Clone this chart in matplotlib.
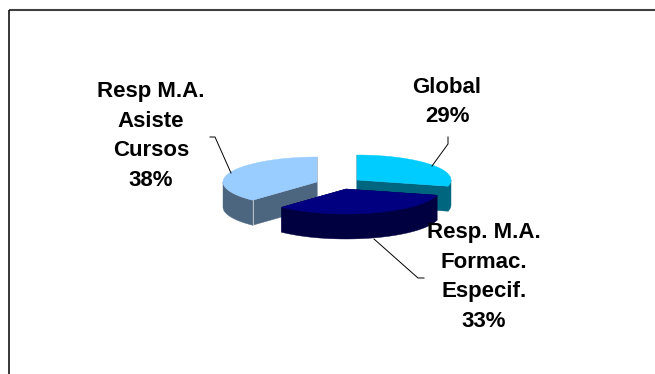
import numpy as np
import matplotlib
matplotlib.use('Agg')
import matplotlib.pyplot as plt
from matplotlib.patches import Polygon

labels = ['Global', 'Resp. M.A.\nFormac.\nEspecif.', 'Resp M.A.\nAsiste\nCursos']
values = [29, 33, 38]
top_colors = ['#00CCFF', '#000080', '#99CCFF']
side_colors = ['#006680', '#000040', '#4D6680']

# apex of each exploded slice, in pixels
apex_x = [357, 346, 317]
apex_y = [180, 189, 182]
rx, ry, depth = 94, 25, 25

label_x = [447, 484, 151]
label_y = [102, 277, 136]

plt.rcParams['font.family'] = ['Liberation Sans', 'DejaVu Sans']

fig = plt.figure(figsize=(6.55, 3.74), dpi=100)
ax = fig.add_axes([0, 0, 1, 1])
ax.set_xlim(0, 655)
ax.set_ylim(374, 0)
ax.axis('off')


def rim(cx, cy, a):
    return cx + rx * np.sin(a), cy - ry * np.cos(a)


def draw_slice(cx, cy, a1, a2, top, side):
    # cut faces
    for a in (a1, a2):
        x, y = rim(cx, cy, a)
        ax.add_patch(Polygon([(cx, cy), (x, y), (x, y + depth), (cx, cy + depth)],
                             fc=side, ec=side, lw=0.3, zorder=2))
    # outer wall, only the front half shows
    lo, hi = max(a1, np.pi / 2), min(a2, 3 * np.pi / 2)
    if hi > lo:
        t = np.linspace(lo, hi, 80)
        x, y = rim(cx, cy, t)
        pts = np.r_[np.c_[x, y], np.c_[x, y + depth][::-1]]
        ax.add_patch(Polygon(pts, fc=side, ec=side, lw=0.3, zorder=2))
    # top
    t = np.linspace(a1, a2, 120)
    x, y = rim(cx, cy, t)
    pts = np.r_[[(cx, cy)], np.c_[x, y]]
    ax.add_patch(Polygon(pts, fc=top, ec=top, lw=0.3, zorder=2))


edges = np.r_[0, np.cumsum(values)] / sum(values) * 2 * np.pi
for i in [2, 0, 1]:
    draw_slice(apex_x[i], apex_y[i], edges[i], edges[i + 1], top_colors[i], side_colors[i])
    if i == 2:
        x, y = rim(apex_x[i], apex_y[i], edges[i])
        ax.plot([x, x], [y, y + depth], color='#C8D0D8', lw=0.6, zorder=2)

# frame of the chart area
ax.plot([9, 655], [10, 10], color='#404040', lw=1.5, solid_capstyle='butt')
ax.plot([9, 9], [9.5, 374], color='black', lw=1.1, solid_capstyle='butt')

# leader lines
ax.plot([432, 448, 448], [166, 144, 137], color='black', lw=0.7, zorder=3)
ax.plot([231, 215, 210], [173, 137, 137], color='black', lw=0.7, zorder=3)
ax.plot([374, 418, 424], [239, 278, 278], color='black', lw=0.7, zorder=3)

for i in range(3):
    txt = '%s\n%d%%' % (labels[i], values[i])
    ax.text(label_x[i], label_y[i], txt, ha='center', va='center', fontsize=16,
            fontweight='bold', color='black', linespacing=1.53, zorder=4)

fig.savefig('out.png', dpi=100)
